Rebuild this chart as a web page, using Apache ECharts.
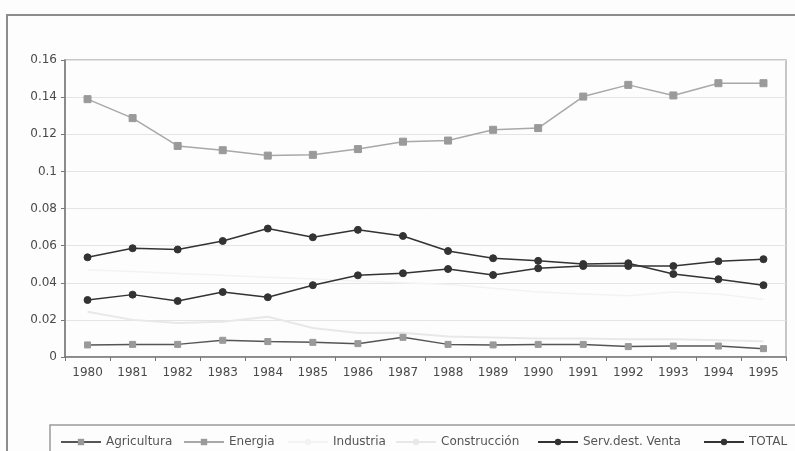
<!DOCTYPE html>
<html><head><meta charset="utf-8">
<script src="https://cdn.jsdelivr.net/npm/echarts@6/dist/echarts.min.js"></script>
<style>html,body{margin:0;padding:0;background:#fff}#c{width:795px;height:451px}</style>
</head><body><div id="c"></div>
<script>
const years = ['1980','1981','1982','1983','1984','1985','1986','1987','1988','1989','1990','1991','1992','1993','1994','1995'];
const agricultura = [0.0065,0.0068,0.0068,0.0090,0.0083,0.0079,0.0072,0.0106,0.0068,0.0065,0.0068,0.0068,0.0056,0.0059,0.0059,0.0045];
const energia = [0.1389,0.1287,0.1137,0.1114,0.1085,0.1089,0.1120,0.1160,0.1166,0.1224,0.1233,0.1403,0.1466,0.1409,0.1475,0.1475];
const industria = [0.047,0.046,0.045,0.044,0.043,0.042,0.041,0.040,0.039,0.037,0.035,0.034,0.033,0.035,0.034,0.031];
const construccion = [0.0244,0.0200,0.0183,0.0190,0.0217,0.0156,0.0129,0.0130,0.0110,0.0105,0.0100,0.0100,0.0095,0.0095,0.0090,0.0085];
const servDestVenta = [0.0307,0.0336,0.0302,0.0350,0.0322,0.0387,0.0440,0.0451,0.0474,0.0442,0.0478,0.0490,0.0490,0.0490,0.0516,0.0527];
const total = [0.0537,0.0586,0.0579,0.0625,0.0692,0.0645,0.0685,0.0652,0.0571,0.0532,0.0518,0.0501,0.0505,0.0447,0.0419,0.0387];
const seriesNames = ['Agricultura','Energia','Industria','Construcción','Serv.dest. Venta','TOTAL'];
const yTicks = {min:0, max:0.16, interval:0.02};

const font = 'DejaVu Sans';
const chart = echarts.init(document.getElementById('c'), null, {renderer:'canvas'});
function mk(name, data, color, symbol, symColor, size, lw){
  return {name, type:'line', data, symbol, symbolSize:size, showSymbol: symbol!=='none',
    lineStyle:{color, width:lw}, itemStyle:{color:symColor, borderColor:symColor},
    emphasis:{disabled:true}, animation:false, z: 3};
}
const legendPos = [55,178,282,390,532,698];
const legends = seriesNames.map((n,i)=>({
  data:[n], left:legendPos[i], top:431, itemWidth:40, itemHeight:8, itemGap:4,
  textStyle:{fontFamily:font, fontSize:12, color:'#555'}, selectedMode:false
}));
chart.setOption({
  backgroundColor:'#fdfdfd',
  animation:false,
  grid:{left:65, top:60, right:9, bottom:94, show:true, borderColor:'#b4b4b4', borderWidth:1.5, backgroundColor:'transparent'},
  legend: legends,
  xAxis:{type:'category', data:years, boundaryGap:true,
    axisLine:{lineStyle:{color:'#777', width:1.5}},
    axisTick:{show:true, alignWithLabel:false, length:4, lineStyle:{color:'#777'}},
    axisLabel:{fontFamily:font, fontSize:12, color:'#4a4a4a', margin:10}},
  yAxis:{type:'value', min:yTicks.min, max:yTicks.max, interval:yTicks.interval,
    axisLine:{show:true, lineStyle:{color:'#777', width:1.5}},
    axisTick:{show:true, length:4, lineStyle:{color:'#777'}},
    splitLine:{lineStyle:{color:'#e4e4e4'}},
    axisLabel:{fontFamily:font, fontSize:12, color:'#4a4a4a', margin:8}},
  graphic:[
    {type:'rect', shape:{x:7, y:15, width:800, height:450}, style:{fill:'none', stroke:'#8c8c8c', lineWidth:2}, silent:true},
    {type:'rect', shape:{x:50, y:425, width:760, height:40}, style:{fill:'none', stroke:'#9a9a9a', lineWidth:1.5}, silent:true}
  ],
  series:[
    mk(seriesNames[0], agricultura, '#555', 'rect', '#999', 6, 1.5),
    mk(seriesNames[1], energia, '#a8a8a8', 'rect', '#9a9a9a', 7, 1.5),
    mk(seriesNames[2], industria, '#f3f3f3', 'none', '#f3f3f3', 5, 1.5),
    mk(seriesNames[3], construccion, '#e8e8e8', 'none', '#e8e8e8', 5, 2),
    mk(seriesNames[4], servDestVenta, '#333', 'circle', '#333', 7, 1.5),
    mk(seriesNames[5], total, '#333', 'circle', '#333', 7, 1.5)
  ]
});
</script></body></html>
